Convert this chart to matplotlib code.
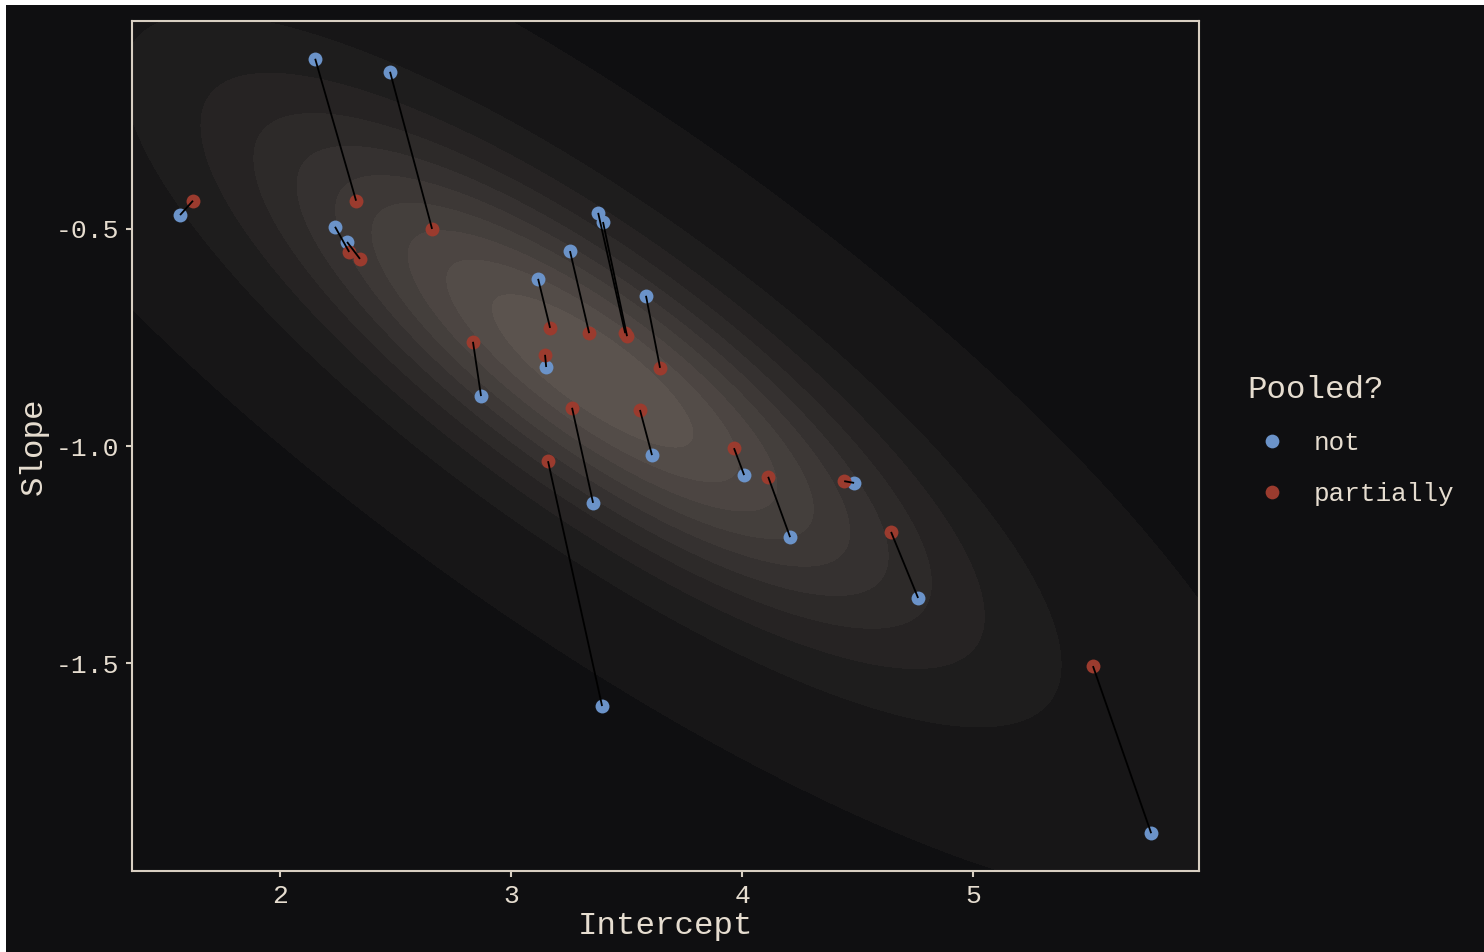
import numpy as np
import matplotlib
matplotlib.use("Agg")
import matplotlib.pyplot as plt
from matplotlib.lines import Line2D
from matplotlib.patches import Rectangle
from matplotlib.colors import to_rgb

# ---------------- data ----------------
not_x = [1.567, 2.152, 2.476, 2.238, 2.290, 3.117, 3.255, 3.377, 3.398, 3.584,
         2.870, 3.152, 3.355, 3.394, 3.610, 4.009, 4.208, 4.485, 4.762, 5.771]
not_y = [-0.468, -0.108, -0.138, -0.495, -0.530, -0.615, -0.551, -0.463, -0.484, -0.654,
         -0.885, -0.818, -1.131, -1.599, -1.021, -1.067, -1.210, -1.085, -1.350, -1.892]
partial_x = [1.623, 2.329, 2.658, 2.299, 2.346, 3.169, 3.338, 3.494, 3.502, 3.645,
             2.835, 3.147, 3.264, 3.160, 3.558, 3.965, 4.113, 4.442, 4.645, 5.519]
partial_y = [-0.435, -0.435, -0.500, -0.553, -0.569, -0.728, -0.740, -0.740, -0.747, -0.820,
             -0.760, -0.790, -0.912, -1.035, -0.917, -1.005, -1.071, -1.081, -1.198, -1.507]

series_labels = ["not", "partially"]
legend_title = "Pooled?"
x_label = "Intercept"
y_label = "Slope"
x_ticks = [2, 3, 4, 5]
x_tick_labels = ["2", "3", "4", "5"]
y_ticks = [-0.5, -1.0, -1.5]
y_tick_labels = ["-0.5", "-1.0", "-1.5"]

# population (bivariate normal) distribution behind the points
pop_mean = [3.353, -0.827]
pop_cov = [[0.893, -0.298], [-0.298, 0.146]]
density_fractions = [0.0058, 0.1, 0.2, 0.3, 0.4, 0.5, 0.6, 0.7, 0.8, 0.9]

# ---------------- style ----------------
BG = "#0f0f11"
FG = "#e6ddd0"
SPINE = "#d8cfc2"
BLUE = "#6b93c9"
RED = "#9b3b2e"
LIGHT = "#5b534e"

plt.rcParams["font.family"] = ["Liberation Mono", "DejaVu Sans Mono"]

W, H = 1484, 952
fig = plt.figure(figsize=(W / 100, H / 100), dpi=100, facecolor="white")
fig.add_artist(Rectangle((6 / W, 0), 1, 1 - 5 / H, transform=fig.transFigure,
                         facecolor=BG, edgecolor="none", zorder=-10))

ax = fig.add_axes([132 / W, 81 / H, 1067 / W, 850 / H])
ax.set_facecolor(BG)
xlim = (1.359, 5.978)
ylim = (-1.979, -0.021)
ax.set_xlim(*xlim)
ax.set_ylim(*ylim)

# density grid
xs = np.linspace(xlim[0], xlim[1], 500)
ys = np.linspace(ylim[0], ylim[1], 500)
X, Y = np.meshgrid(xs, ys)
cov = np.array(pop_cov)
inv = np.linalg.inv(cov)
dx = X - pop_mean[0]
dy = Y - pop_mean[1]
q = inv[0, 0] * dx ** 2 + 2 * inv[0, 1] * dx * dy + inv[1, 1] * dy ** 2
peak = 1 / (2 * np.pi * np.sqrt(np.linalg.det(cov)))
Z = peak * np.exp(-0.5 * q)
levels = [f * peak for f in density_fractions] + [peak * 1.01]
c0 = np.array(to_rgb(BG))
c1 = np.array(to_rgb(LIGHT))
n = len(density_fractions)
band_colors = [tuple(c0 + (c1 - c0) * (i + 1) / n) for i in range(n)]
ax.contourf(X, Y, Z, levels=levels, colors=band_colors, zorder=1)

# points and connecting lines
ax.scatter(not_x, not_y, s=100, color=BLUE, linewidths=0, zorder=3)
ax.scatter(partial_x, partial_y, s=100, color=RED, linewidths=0, zorder=3)
for nx, ny, px, py in zip(not_x, not_y, partial_x, partial_y):
    ax.plot([nx, px], [ny, py], color="black", lw=1.3, zorder=4, solid_capstyle="butt")

# axes styling
for s in ax.spines.values():
    s.set_color(SPINE)
    s.set_linewidth(1.5)
    s.set_zorder(5)
ax.set_xticks(x_ticks)
ax.set_xticklabels(x_tick_labels)
ax.set_yticks(y_ticks)
ax.set_yticklabels(y_tick_labels)
ax.tick_params(axis="both", colors=SPINE, labelcolor=FG, labelsize=19,
               length=4.3, width=1.5, pad=5.0, direction="out")
ax.set_xlabel(x_label, color=FG, fontsize=23.4, labelpad=2.5)
ax.set_ylabel(y_label, color=FG, fontsize=23.4, labelpad=5)

handles = [Line2D([], [], marker="o", ls="", color=BLUE, markersize=9.9, markeredgewidth=0),
           Line2D([], [], marker="o", ls="", color=RED, markersize=9.9, markeredgewidth=0)]
leg = fig.legend(handles=handles, labels=series_labels, title=legend_title,
                 loc="upper left", bbox_to_anchor=(1247 / W, 1 - 375 / H),
                 frameon=False, fontsize=18.7, title_fontsize=23.4, alignment="left",
                 handlelength=1.9, handletextpad=0.66, labelspacing=1.02,
                 borderpad=0, borderaxespad=0)
for t in leg.get_texts():
    t.set_color(FG)
leg.get_title().set_color(FG)

fig.savefig("out.png", dpi=100, facecolor="white")
